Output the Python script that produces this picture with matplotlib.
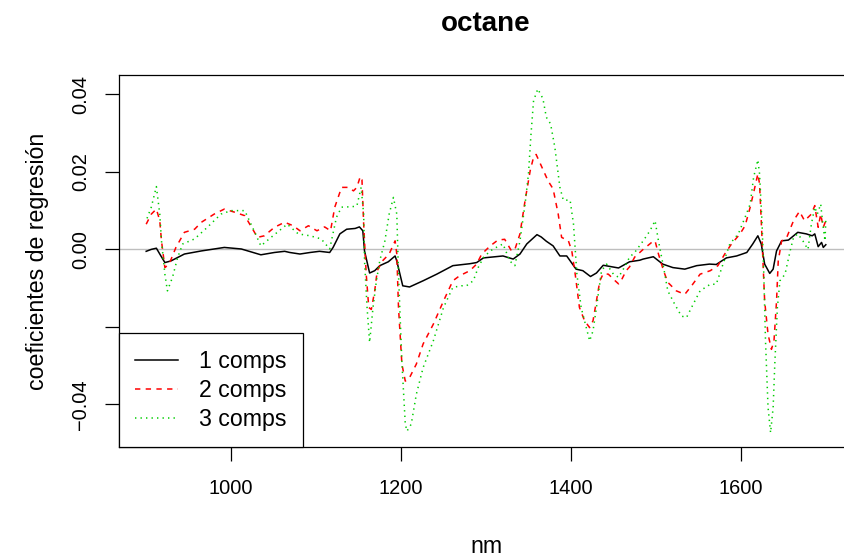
import matplotlib
matplotlib.use("Agg")
import matplotlib.pyplot as plt

plt.rcParams['font.family'] = ['Liberation Sans', 'DejaVu Sans']

# regression coefficients, per number of components
nm_1 = [900, 906, 912, 916, 922, 929, 945, 965, 992, 1012, 1035, 1051, 1063, 1069,
        1081, 1093, 1104, 1116, 1120, 1128, 1136, 1146, 1151, 1155, 1157, 1163, 1169,
        1175, 1185, 1193, 1195, 1202, 1210, 1226, 1242, 1261, 1269, 1281, 1289, 1297,
        1320, 1332, 1340, 1348, 1360, 1365, 1371, 1379, 1387, 1395, 1406, 1414, 1423,
        1430, 1438, 1456, 1469, 1481, 1485, 1497, 1508, 1520, 1534, 1548, 1563, 1571,
        1583, 1595, 1607, 1614, 1620, 1624, 1628, 1634, 1638, 1642, 1648, 1656, 1667,
        1677, 1684, 1687, 1691, 1695, 1697, 1700]
coef_1 = [-0.0005, 0.0000, 0.0003, -0.0012, -0.0034, -0.0030, -0.0012, -0.0004, 0.0005,
          0.0001, -0.0014, -0.0008, -0.0005, -0.0008, -0.0012, -0.0008, -0.0005, -0.0008,
          0.0005, 0.0040, 0.0052, 0.0054, 0.0058, 0.0048, -0.0004, -0.0061, -0.0055,
          -0.0042, -0.0032, -0.0017, -0.0030, -0.0094, -0.0097, -0.0081, -0.0064, -0.0042,
          -0.0040, -0.0037, -0.0034, -0.0022, -0.0017, -0.0025, -0.0012, 0.0014, 0.0038,
          0.0032, 0.0021, 0.0009, -0.0017, -0.0017, -0.0051, -0.0055, -0.0070, -0.0061,
          -0.0041, -0.0048, -0.0032, -0.0028, -0.0025, -0.0019, -0.0038, -0.0047, -0.0051,
          -0.0042, -0.0038, -0.0039, -0.0022, -0.0017, -0.0008, 0.0014, 0.0035, 0.0014,
          -0.0038, -0.0062, -0.0051, -0.0004, 0.0022, 0.0024, 0.0044, 0.0040, 0.0035,
          0.0040, 0.0007, 0.0018, 0.0005, 0.0012]

nm_2 = [900, 906, 912, 916, 918, 922, 927, 935, 945, 957, 965, 980, 992, 1004, 1016,
        1031, 1039, 1051, 1063, 1073, 1081, 1091, 1101, 1110, 1117, 1122, 1130, 1138,
        1144, 1148, 1152, 1154, 1156, 1159, 1162, 1165, 1169, 1172, 1178, 1186, 1193,
        1195, 1197, 1201, 1205, 1210, 1218, 1226, 1238, 1250, 1261, 1269, 1281, 1289,
        1295, 1305, 1314, 1322, 1330, 1334, 1340, 1346, 1352, 1356, 1359, 1365, 1373,
        1379, 1385, 1389, 1397, 1401, 1405, 1410, 1416, 1422, 1426, 1430, 1434, 1438,
        1444, 1452, 1456, 1459, 1465, 1469, 1475, 1485, 1495, 1499, 1503, 1509, 1514,
        1524, 1534, 1542, 1552, 1564, 1573, 1581, 1589, 1599, 1605, 1611, 1616, 1620,
        1622, 1624, 1626, 1628, 1632, 1636, 1639, 1642, 1644, 1648, 1654, 1662, 1669,
        1675, 1683, 1687, 1691, 1694, 1697, 1700]
coef_2 = [0.0065, 0.0091, 0.0104, 0.0074, 0.0022, -0.0047, -0.0038, 0.0005, 0.0044,
          0.0052, 0.0070, 0.0091, 0.0104, 0.0096, 0.0087, 0.0031, 0.0035, 0.0057, 0.0070,
          0.0061, 0.0048, 0.0061, 0.0048, 0.0058, 0.0048, 0.0109, 0.0160, 0.0160, 0.0151,
          0.0160, 0.0188, 0.0180, 0.0065, -0.0064, -0.0150, -0.0155, -0.0107, -0.0055,
          -0.0030, -0.0012, 0.0022, -0.0012, -0.0150, -0.0296, -0.0340, -0.0331, -0.0296,
          -0.0244, -0.0193, -0.0133, -0.0081, -0.0068, -0.0055, -0.0038, -0.0012, 0.0009,
          0.0024, 0.0026, -0.0004, 0.0000, 0.0040, 0.0126, 0.0203, 0.0238, 0.0245, 0.0216,
          0.0177, 0.0156, 0.0091, 0.0031, 0.0022, -0.0004, -0.0064, -0.0150, -0.0184,
          -0.0202, -0.0184, -0.0133, -0.0081, -0.0063, -0.0064, -0.0081, -0.0089, -0.0081,
          -0.0055, -0.0045, -0.0020, 0.0000, 0.0018, 0.0022, -0.0012, -0.0055, -0.0085,
          -0.0107, -0.0116, -0.0094, -0.0064, -0.0055, -0.0042, -0.0012, 0.0014, 0.0040,
          0.0061, 0.0109, 0.0156, 0.0195, 0.0169, 0.0074, -0.0030, -0.0133, -0.0219,
          -0.0258, -0.0236, -0.0133, -0.0030, 0.0022, 0.0031, 0.0074, 0.0098, 0.0074,
          0.0091, 0.0113, 0.0057, 0.0091, 0.0057, 0.0074]

nm_3 = [901, 906, 912, 916, 918, 922, 925, 931, 937, 943, 957, 972, 988, 1000, 1016,
        1027, 1035, 1047, 1066, 1079, 1093, 1106, 1116, 1124, 1130, 1142, 1148, 1153,
        1156, 1157, 1160, 1163, 1167, 1171, 1175, 1181, 1186, 1191, 1195, 1197, 1201,
        1205, 1207, 1212, 1218, 1226, 1238, 1250, 1261, 1271, 1277, 1285, 1291, 1297,
        1305, 1312, 1320, 1328, 1334, 1340, 1346, 1350, 1353, 1356, 1361, 1367, 1371,
        1376, 1381, 1387, 1391, 1399, 1403, 1407, 1412, 1418, 1422, 1426, 1430, 1436,
        1442, 1450, 1456, 1463, 1469, 1475, 1485, 1493, 1499, 1503, 1509, 1514, 1522,
        1530, 1536, 1544, 1552, 1564, 1571, 1579, 1587, 1597, 1605, 1611, 1615, 1620,
        1622, 1625, 1627, 1629, 1632, 1635, 1638, 1640, 1643, 1646, 1652, 1658, 1662,
        1667, 1673, 1679, 1683, 1687, 1690, 1694, 1696, 1699, 1700]
coef_3 = [0.0080, 0.0109, 0.0162, 0.0091, 0.0022, -0.0064, -0.0107, -0.0072, -0.0021,
          0.0014, 0.0027, 0.0057, 0.0091, 0.0100, 0.0100, 0.0048, 0.0009, 0.0031, 0.0065,
          0.0040, 0.0035, 0.0027, 0.0001, 0.0083, 0.0109, 0.0110, 0.0112, 0.0160, 0.0091,
          -0.0029, -0.0150, -0.0240, -0.0150, -0.0081, -0.0029, 0.0022, 0.0091, 0.0134,
          0.0091, -0.0064, -0.0291, -0.0451, -0.0469, -0.0451, -0.0374, -0.0305, -0.0236,
          -0.0150, -0.0098, -0.0094, -0.0094, -0.0081, -0.0046, -0.0021, -0.0004, 0.0005,
          0.0014, -0.0030, -0.0042, 0.0022, 0.0117, 0.0195, 0.0298, 0.0384, 0.0414, 0.0389,
          0.0341, 0.0324, 0.0264, 0.0160, 0.0127, 0.0127, 0.0065, -0.0064, -0.0150,
          -0.0202, -0.0236, -0.0210, -0.0150, -0.0055, -0.0038, -0.0064, -0.0072, -0.0046,
          -0.0020, -0.0008, 0.0022, 0.0048, 0.0074, 0.0022, -0.0046, -0.0107, -0.0141,
          -0.0172, -0.0176, -0.0141, -0.0107, -0.0090, -0.0090, -0.0038, 0.0014, 0.0040,
          0.0083, 0.0117, 0.0186, 0.0231, 0.0195, 0.0065, -0.0064, -0.0236, -0.0408,
          -0.0473, -0.0408, -0.0293, -0.0150, -0.0081, -0.0064, -0.0004, 0.0031, 0.0040,
          0.0022, 0.0000, 0.0065, 0.0109, 0.0091, 0.0117, 0.0074, 0.0022, 0.0074]

labels = ['1 comps', '2 comps', '3 comps']
x_ticks = [1000, 1200, 1400, 1600]
y_ticks = [-0.04, -0.02, 0.00, 0.02, 0.04]
y_ticklabels = ['\u22120.04', '', '0.00', '0.02', '0.04']

W, H = 845, 557
fig = plt.figure(figsize=(W / 100, H / 100), dpi=100)
ax = fig.add_axes([119 / W, (H - 447) / H, (853 - 119) / W, (447 - 75) / H])

ax.axhline(0, color='#BEBEBE', lw=1.0, zorder=1)
ax.plot(nm_1, coef_1, color='black', lw=1.1, label=labels[0], zorder=3)
ax.plot(nm_2, coef_2, color='red', lw=1.1, dashes=(3.5, 3.5), label=labels[1], zorder=3)
ax.plot(nm_3, coef_3, color='#00CD00', lw=1.1, dashes=(0.9, 2.7), label=labels[2], zorder=3)

ax.set_xlim(868, 1732)
ax.set_ylim(-0.0510, 0.0450)
ax.set_xticks(x_ticks)
ax.set_xticklabels([str(v) for v in x_ticks])
ax.set_yticks(y_ticks)
ax.set_yticklabels(y_ticklabels, rotation=90, va='center')
ax.tick_params(length=10, width=0.9, labelsize=14.4, direction='out')
ax.tick_params(axis='x', pad=13)
ax.tick_params(axis='y', pad=11)
for s in ax.spines.values():
    s.set_linewidth(0.9)

ax.set_title('octane', fontsize=20, fontweight='bold', pad=32)
ax.set_xlabel('nm', fontsize=16.7, labelpad=27)
ax.set_ylabel('coeficientes de regresi\u00f3n', fontsize=16.7, labelpad=16)

leg = ax.legend(loc='lower left', borderaxespad=0, fancybox=False, framealpha=1,
                edgecolor='black', fontsize=16.7, handlelength=1.85, handletextpad=0.9,
                labelspacing=0.26, borderpad=0.7)
leg.get_frame().set_linewidth(0.9)

fig.savefig('out.png', dpi=100)
